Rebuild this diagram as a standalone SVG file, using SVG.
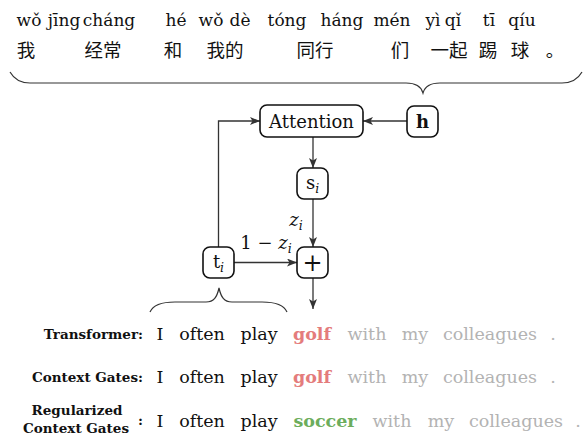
<svg xmlns="http://www.w3.org/2000/svg" width="586" height="437" viewBox="0 0 586 437">
<style>
text{font-family:"DejaVu Serif",serif}
.py{font-size:17px;fill:#111;text-anchor:middle}
.zh{font-family:"Noto Sans CJK SC",sans-serif;font-size:18.5px;fill:#111;text-anchor:middle}
.box{fill:#fff;stroke:#111;stroke-width:1.6}
.nt{font-size:18px;fill:#111;text-anchor:middle}
.sub{font-size:12.5px;font-style:italic}
.conn{fill:none;stroke:#333;stroke-width:1.3}
.brace{fill:none;stroke:#333;stroke-width:1.2}
.w{font-size:17.5px;fill:#111;text-anchor:middle}
.g{fill:#b3b3b3}
.red{fill:#e47c7c;font-weight:bold}
.grn{fill:#6cad5c;font-weight:bold}
.lab{font-weight:bold;font-size:13.5px;fill:#111}
.it{font-style:italic}
</style>
<defs>
<marker id="arr" viewBox="0 0 10 8" refX="10" refY="4" markerWidth="10" markerHeight="8" markerUnits="userSpaceOnUse" orient="auto">
<path d="M0,0 L10,4 L0,8 L2.5,4 z" fill="#333"/>
</marker>
</defs>

<g id="pinyin">
<text class="py" x="29" y="26">wǒ</text>
<text class="py" x="64" y="26">jīng</text>
<text class="py" x="109" y="26">cháng</text>
<text class="py" x="176" y="26">hé</text>
<text class="py" x="211" y="26">wǒ</text>
<text class="py" x="240" y="26">dè</text>
<text class="py" x="287" y="26">tóng</text>
<text class="py" x="342" y="26">háng</text>
<text class="py" x="392" y="26">mén</text>
<text class="py" x="433" y="26">yì</text>
<text class="py" x="453" y="26">qǐ</text>
<text class="py" x="489" y="26">tī</text>
<text class="py" x="522" y="26">qíu</text>
</g>
<g id="chinese">
<text class="zh" x="26" y="57">我</text>
<text class="zh" x="103" y="57">经常</text>
<text class="zh" x="173" y="57">和</text>
<text class="zh" x="225" y="57">我的</text>
<text class="zh" x="315" y="57">同行</text>
<text class="zh" x="400" y="57">们</text>
<text class="zh" x="449" y="57">一起</text>
<text class="zh" x="488" y="57">踢</text>
<text class="zh" x="520" y="57">球</text>
<text class="zh" x="555" y="57">。</text>
</g>

<g id="braces">
<path class="brace" d="M10,72 C14,79 20,83 30,83 L406,83 C416,83 421,86 423,93 C425,86 430,83 440,83 L562,83 C572,83 578,79 582,72"/>
<path class="brace" d="M150,312 C153,305 162,302 175,302 L206,302 C214,302 217,297 219,288 C221,297 224,302 232,302 L262,302 C275,302 284,305 287,312"/>
</g>

<g id="connectors">
<path class="conn" d="M218.5,247 L218.5,121 L260,121" marker-end="url(#arr)"/>
<path class="conn" d="M407,121 L363,121" marker-end="url(#arr)"/>
<path class="conn" d="M313,137 L313,168" marker-end="url(#arr)"/>
<path class="conn" d="M313,199 L313,247" marker-end="url(#arr)"/>
<path class="conn" d="M234,262.5 L297,262.5" marker-end="url(#arr)"/>
<path class="conn" d="M313,278 L313,309" marker-end="url(#arr)"/>
<text class="nt" x="296" y="226"><tspan class="it">z</tspan><tspan class="sub" dy="4">i</tspan></text>
<text class="nt" x="266" y="249">1 − <tspan class="it">z</tspan><tspan class="sub" dy="4">i</tspan></text>
</g>

<g id="node-attention">
<rect class="box" x="260" y="105" width="103" height="32" rx="7"/>
<text class="nt" x="311.5" y="127.5">Attention</text>
</g>
<g id="node-h">
<rect class="box" x="407" y="106" width="31" height="31" rx="7"/>
<text class="nt" x="422.5" y="128" font-weight="bold">h</text>
</g>
<g id="node-s">
<rect class="box" x="297" y="168" width="31" height="31" rx="7"/>
<text class="nt" x="312.5" y="188.5">s<tspan class="sub" dy="4">i</tspan></text>
</g>
<g id="node-plus">
<rect class="box" x="297" y="247" width="31" height="31" rx="7"/>
<text class="nt" x="312.5" y="270.5" style="font-size:24px">+</text>
</g>
<g id="node-t">
<rect class="box" x="203" y="247" width="31" height="31" rx="7"/>
<text class="nt" x="218.5" y="267.5">t<tspan class="sub" dy="4">i</tspan></text>
</g>

<g id="rows">
<text class="lab" x="143" y="339" text-anchor="end">Transformer:</text>
<text class="w" x="160" y="340">I</text>
<text class="w" x="202" y="340">often</text>
<text class="w" x="259" y="340">play</text>
<text class="w red" x="312" y="340">golf</text>
<text class="w g" x="367" y="340">with</text>
<text class="w g" x="415" y="340">my</text>
<text class="w g" x="490" y="340">colleagues</text>
<text class="w g" x="553" y="340">.</text>

<text class="lab" x="143" y="382" text-anchor="end">Context Gates:</text>
<text class="w" x="160" y="383">I</text>
<text class="w" x="202" y="383">often</text>
<text class="w" x="259" y="383">play</text>
<text class="w red" x="312" y="383">golf</text>
<text class="w g" x="367" y="383">with</text>
<text class="w g" x="415" y="383">my</text>
<text class="w g" x="490" y="383">colleagues</text>
<text class="w g" x="553" y="383">.</text>

<text class="lab" x="77" y="415" text-anchor="middle">Regularized</text>
<text class="lab" x="76" y="433" text-anchor="middle">Context Gates</text>
<text class="lab" x="138" y="425">:</text>
<text class="w" x="160" y="427">I</text>
<text class="w" x="202" y="427">often</text>
<text class="w" x="259" y="427">play</text>
<text class="w grn" x="325" y="427">soccer</text>
<text class="w g" x="392" y="427">with</text>
<text class="w g" x="441" y="427">my</text>
<text class="w g" x="516" y="427">colleagues</text>
<text class="w g" x="578" y="427">.</text>
</g>
</svg>
